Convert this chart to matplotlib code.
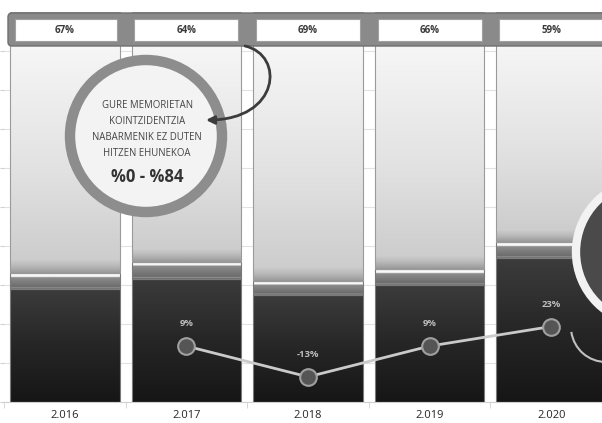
import numpy as np
import matplotlib
matplotlib.use('Agg')
import matplotlib.pyplot as plt
from matplotlib.colors import LinearSegmentedColormap
from matplotlib.patches import Circle, Rectangle, FancyBboxPatch, FancyArrowPatch, Arc
from matplotlib.path import Path

plt.rcParams['font.family'] = ['Open Sans', 'DejaVu Sans']

# data
years = ['2.016', '2.017', '2.018', '2.019', '2.020']
dark = [29.0, 31.6, 27.5, 30.0, 36.9]     # dark bottom part
band = [4.0, 4.4, 3.5, 4.0, 4.1]          # thin middle band
light = [67, 64, 69, 66, 59]              # light top part (header %)
growth_years = ['2.017', '2.018', '2.019', '2.020']
growth = [9, -13, 9, 23]

W, H = 602, 423
fig = plt.figure(figsize=(W / 100, H / 100), dpi=100)
fig.patch.set_facecolor('white')

# main axes: left edge ~4px, bottom at 402px from top, 121.6px per category
ax = fig.add_axes([4 / W, (H - 402) / H, 608 / W, 390 / H])
x = np.arange(len(years))
bw = 0.9

cm_dark = LinearSegmentedColormap.from_list('d', ['#161616', '#262626', '#3c3c3c'])
cm_band = LinearSegmentedColormap.from_list(
    'b', [(0, '#3c3c3c'), (0.05, '#a4a4a4'), (0.13, '#6c6c6c'), (0.72, '#8c8c8c'),
          (0.78, '#f8f8f8'), (0.95, '#f8f8f8'), (1, '#a0a0a0')])
cm_light = LinearSegmentedColormap.from_list(
    'l', [(0, '#9a9a9a'), (0.025, '#b8b8b8'), (0.05, '#cdcdcd'), (0.4, '#e2e2e2'), (1, '#fcfcfc')])


def shade(patches, cmap):
    grad = np.linspace(0, 1, 256).reshape(-1, 1)
    for p in patches:
        x0, y0, w, h = p.get_x(), p.get_y(), p.get_width(), p.get_height()
        im = ax.imshow(grad, cmap=cmap, origin='lower', aspect='auto',
                       extent=(x0, x0 + w, y0, y0 + h), zorder=2)
        im.set_clip_path(p)


b1 = ax.bar(x, dark, bw, fc='none', ec='#7a7a7a', lw=0.8, zorder=3)
bottom2 = np.array(dark)
b2 = ax.bar(x, band, bw, bottom=bottom2, fc='none', ec='#7a7a7a', lw=0.8, zorder=3)
bottom3 = bottom2 + np.array(band)
b3 = ax.bar(x, light, bw, bottom=bottom3, fc='none', ec='#9a9a9a', lw=0.8, zorder=3)
shade(b1, cm_dark)
shade(b2, cm_band)
shade(b3, cm_light)

ax.set_xlim(-0.5, len(years) - 0.5)
ax.set_ylim(0, 100)
ax.set_yticks(np.arange(0, 100, 10))
ax.set_yticklabels([])
ax.grid(axis='y', color='#e2e2e2', lw=0.8, zorder=0)
ax.set_axisbelow(True)
ax.tick_params(axis='y', length=3, color='#d0d0d0', direction='out')
ax.set_xticks(x, years)
ax.set_xticks(np.arange(-0.5, len(years), 1), minor=True)
ax.tick_params(axis='x', which='major', length=0, pad=6, labelsize=8, labelcolor='#262626')
ax.tick_params(axis='x', which='minor', length=4, color='#d0d0d0')
for s in ['top', 'right', 'left']:
    ax.spines[s].set_visible(False)
ax.spines['bottom'].set_color('#d0d0d0')

# growth line on secondary axis
ax2 = ax.twinx()
ax2.set_ylim(-31, 248)
gx = [years.index(y) for y in growth_years]
ax2.plot(gx, growth, color='#cacaca', lw=2, zorder=5)
ax2.plot(gx, growth, ls='none', marker='o', ms=12, mfc='#555555', mec='#a0a0a0', mew=1.5, zorder=6)
for xi, g in zip(gx, growth):
    ax2.annotate(f'{g}%', (xi, g), xytext=(0, 16), textcoords='offset points',
                 ha='center', va='center', fontsize=6.8, fontweight='bold', color='#bdbdbd')
ax2.set_yticks([])
for s in ax2.spines.values():
    s.set_visible(False)

# overlay in pixel coordinates for the decorations
ov = fig.add_axes([0, 0, 1, 1])
ov.set_xlim(0, W)
ov.set_ylim(H, 0)
ov.axis('off')

# header box with the light-part percentages
ov.add_patch(FancyBboxPatch((8, 13), 640, 33, boxstyle='round,pad=0,rounding_size=4',
                            fc='#8a8a8a', ec='#6f6f6f', lw=1))
for i, v in enumerate(light):
    cx = 4 + (i + 0.5) * 121.6
    left = max(cx - 52, 15)
    ov.add_patch(Rectangle((left, 19), cx + 52 - left, 22, fc='white', ec='#a0a0a0', lw=0.8))
    ov.text(cx, 30.5, f'{v}%', ha='center', va='center', fontsize=7,
            fontweight='bold', color='#3a3a3a')

# left circle callout
ov.add_patch(Circle((146, 136), 76, fc='#f3f3f3', ec='#8d8d8d', lw=7.5, zorder=4))
for ty, line in zip([106, 122, 138, 154],
                    ['GURE MEMORIETAN', 'KOINTZIDENTZIA', 'NABARMENIK EZ DUTEN', 'HITZEN EHUNEKOA']):
    ov.text(147, ty, line, ha='center', va='center', fontsize=6.9, color='#444444', zorder=5)
ov.text(147, 177, '%0 - %84', ha='center', va='center', fontsize=12,
        fontweight='bold', color='#333333', zorder=5)

arrow_path = Path([(245, 46), (285, 55), (280, 120), (206, 120)],
                  [Path.MOVETO, Path.CURVE4, Path.CURVE4, Path.CURVE4])
ov.add_patch(FancyArrowPatch(path=arrow_path, arrowstyle='-|>', mutation_scale=12,
                             lw=2, color='#3c3c3c', zorder=6))

# right circle (cut off) and small arc
ov.add_patch(Circle((648, 252), 72, fc='#4a4a4a', ec='#f2f2f2', lw=6, zorder=4))
ov.add_patch(Arc((606, 327), 70, 70, theta1=90, theta2=172, color='#c0c0c0', lw=1.5, zorder=4))

fig.savefig('out.png', dpi=100)
